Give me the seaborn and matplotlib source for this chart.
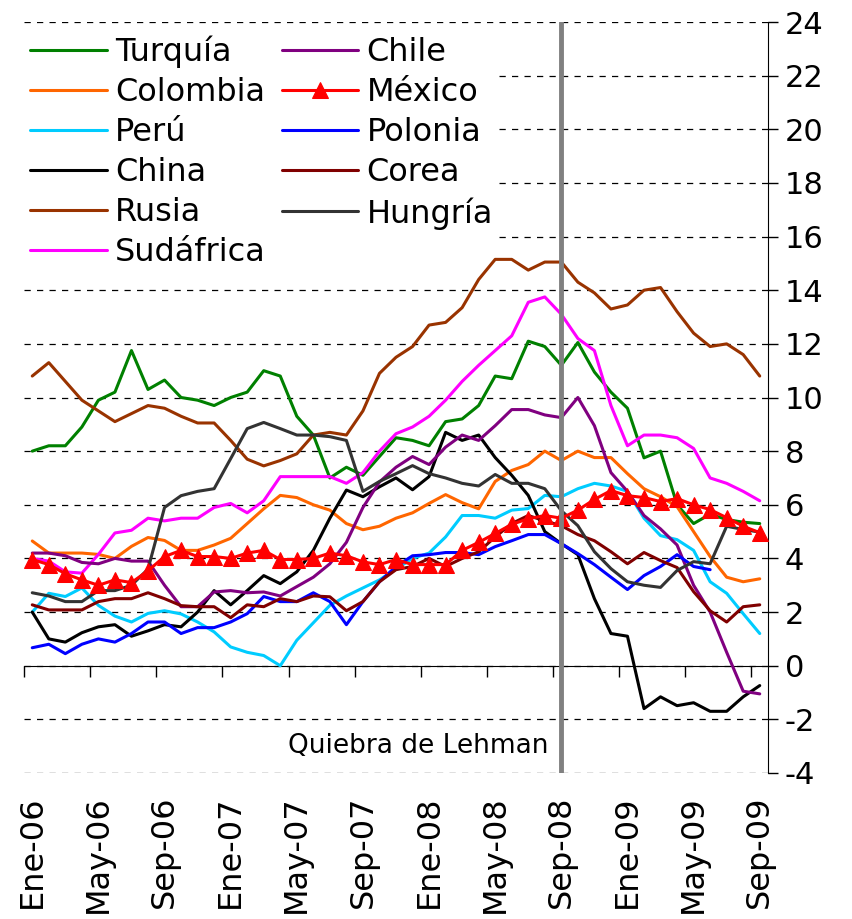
import numpy as np
import pandas as pd
import matplotlib
matplotlib.use("Agg")
import matplotlib.pyplot as plt
import seaborn as sns

# Meses (Ene-06 .. Sep-09)
meses_es = ["Ene", "Feb", "Mar", "Abr", "May", "Jun", "Jul", "Ago", "Sep", "Oct", "Nov", "Dic"]
fechas = [f"{meses_es[m]}-{y:02d}" for y in range(6, 10) for m in range(12)][:45]

turquia = [8.0, 8.2, 8.2, 8.9, 9.9, 10.2, 11.75, 10.3, 10.65, 10.0,
           9.9, 9.7, 10.0, 10.2, 11.0, 10.8, 9.3, 8.6, 7.0, 7.4,
           7.1, 7.8, 8.5, 8.4, 8.2, 9.1, 9.2, 9.7, 10.8, 10.7,
           12.1, 11.9, 11.2, 12.05, 10.95, 10.2, 9.6, 7.75, 8.0, 6.0,
           5.3, 5.65, 5.45, 5.35, 5.3]
colombia = [4.65, 4.2, 4.2, 4.2, 4.15, 4.0, 4.45, 4.78, 4.67, 4.3,
            4.3, 4.5, 4.75, 5.3, 5.85, 6.35, 6.27, 6.0, 5.8, 5.3,
            5.07, 5.2, 5.5, 5.7, 6.05, 6.38, 6.08, 5.85, 6.87, 7.28,
            7.5, 8.0, 7.65, 8.0, 7.76, 7.76, 7.16, 6.6, 6.3, 5.93,
            5.0, 4.07, 3.3, 3.13, 3.24]
peru = [2.0, 2.7, 2.58, 2.9, 2.25, 1.85, 1.63, 1.95, 2.05, 1.93,
        1.63, 1.26, 0.7, 0.5, 0.38, 0.0, 0.95, 1.6, 2.25, 2.6,
        2.9, 3.2, 3.6, 4.0, 4.2, 4.8, 5.6, 5.6, 5.5, 5.8,
        5.86, 6.35, 6.3, 6.6, 6.8, 6.7, 6.5, 5.5, 4.85, 4.7,
        4.3, 3.13, 2.7, 1.94, 1.2]
china = [2.0, 1.0, 0.88, 1.23, 1.45, 1.53, 1.1, 1.3, 1.53, 1.45,
         2.0, 2.8, 2.27, 2.8, 3.36, 3.06, 3.5, 4.3, 5.5, 6.55,
         6.3, 6.67, 7.0, 6.56, 7.05, 8.7, 8.4, 8.6, 7.76, 7.1,
         6.35, 5.0, 4.55, 4.14, 2.5, 1.2, 1.1, -1.6, -1.16, -1.49,
         -1.38, -1.7, -1.7, -1.16, -0.74]
rusia = [10.8, 11.3, 10.6, 9.9, 9.5, 9.1, 9.4, 9.7, 9.6, 9.3,
         9.05, 9.05, 8.4, 7.7, 7.45, 7.65, 7.9, 8.6, 8.7, 8.6,
         9.5, 10.9, 11.5, 11.9, 12.7, 12.8, 13.35, 14.4, 15.15, 15.15,
         14.75, 15.05, 15.05, 14.3, 13.9, 13.3, 13.45, 14.0, 14.1, 13.2,
         12.4, 11.9, 12.0, 11.6, 10.8]
sudafrica = [4.0, 3.9, 3.5, 3.45, 4.15, 4.95, 5.05, 5.5, 5.4, 5.5,
             5.5, 5.9, 6.05, 5.7, 6.15, 7.05, 7.05, 7.05, 7.05, 6.8,
             7.2, 8.0, 8.65, 8.9, 9.3, 9.9, 10.6, 11.2, 11.75, 12.3,
             13.55, 13.75, 13.1, 12.2, 11.75, 9.7, 8.2, 8.6, 8.6, 8.5,
             8.1, 7.0, 6.8, 6.5, 6.15]
chile = [4.2, 4.2, 4.1, 3.85, 3.8, 4.0, 3.9, 3.9, 3.0, 2.2,
         2.2, 2.75, 2.8, 2.72, 2.75, 2.6, 2.95, 3.3, 3.8, 4.6,
         5.9, 6.85, 7.4, 7.8, 7.5, 8.15, 8.6, 8.4, 8.95, 9.55,
         9.55, 9.35, 9.25, 10.0, 8.95, 7.2, 6.5, 5.6, 5.1, 4.5,
         3.0, 2.0, 0.5, -0.95, -1.05]
mexico = [3.96, 3.77, 3.43, 3.2, 3.0, 3.2, 3.1, 3.54, 4.07, 4.3,
          4.07, 4.07, 4.0, 4.2, 4.3, 3.96, 3.96, 4.0, 4.2, 4.1,
          3.87, 3.77, 3.96, 3.77, 3.77, 3.77, 4.3, 4.6, 4.93, 5.27,
          5.48, 5.6, 5.5, 5.8, 6.2, 6.53, 6.34, 6.27, 6.12, 6.23,
          6.0, 5.82, 5.52, 5.2, 4.96]
polonia = [0.67, 0.8, 0.45, 0.8, 1.0, 0.88, 1.2, 1.63, 1.63, 1.2,
           1.42, 1.42, 1.63, 1.94, 2.58, 2.39, 2.39, 2.72, 2.39, 1.53,
           2.39, 3.13, 3.7, 4.1, 4.14, 4.22, 4.22, 4.14, 4.44, 4.66,
           4.89, 4.89, 4.55, 4.18, 3.77, 3.3, 2.84, 3.36, 3.7, 4.14,
           3.7, 3.58, np.nan, np.nan, np.nan]
corea = [2.27, 2.08, 2.08, 2.08, 2.39, 2.5, 2.5, 2.72, 2.5, 2.24,
         2.2, 2.2, 1.79, 2.27, 2.2, 2.5, 2.39, 2.6, 2.57, 2.05,
         2.39, 3.13, 3.58, 3.7, 4.0, 3.7, 4.0, 4.25, 4.8, 5.3,
         5.6, 5.4, 5.22, 4.89, 4.66, 4.25, 3.8, 4.22, 3.92, 3.66,
         2.76, 2.05, 1.63, 2.2, 2.27]
hungria = [2.72, 2.6, 2.39, 2.39, 2.8, 2.8, 3.0, 3.6, 5.9, 6.34,
           6.5, 6.6, 7.72, 8.84, 9.07, 8.84, 8.6, 8.6, 8.54, 8.4,
           6.5, 6.87, 7.16, 7.46, 7.16, 7.0, 6.8, 6.7, 7.13, 6.8,
           6.8, 6.6, 5.78, 5.22, 4.25, 3.62, 3.13, 3.0, 2.92, 3.55,
           3.88, 3.8, 5.2, 5.08, 4.98]

# Orden de la leyenda (dos columnas)
series = [
    ("Turquía", turquia, "#008000"),
    ("Colombia", colombia, "#FF6600"),
    ("Perú", peru, "#00CCFF"),
    ("China", china, "#000000"),
    ("Rusia", rusia, "#993300"),
    ("Sudáfrica", sudafrica, "#FF00FF"),
    ("Chile", chile, "#800080"),
    ("México", mexico, "#FF0000"),
    ("Polonia", polonia, "#0000FF"),
    ("Corea", corea, "#800000"),
    ("Hungría", hungria, "#333333"),
]

sns.set_style("white")
plt.rcParams["font.family"] = ["DejaVu Sans"]
plt.rcParams["text.color"] = "black"
plt.rcParams["axes.unicode_minus"] = False

fig = plt.figure(figsize=(8.52, 9.19), dpi=100)
ax = fig.add_axes([24 / 852, 1 - 773 / 919, 744 / 852, 751 / 919])

idx = np.arange(len(fechas))
for nombre, valores, color in series:
    df = pd.DataFrame({"mes": idx, "valor": valores})
    if nombre == "México":
        sns.lineplot(data=df, x="mes", y="valor", color=color, linewidth=2.2,
                     marker="^", markersize=11, markeredgecolor=color,
                     label=nombre, ax=ax, zorder=4)
    else:
        sns.lineplot(data=df, x="mes", y="valor", color=color, linewidth=2.2,
                     label=nombre, ax=ax, zorder=3)

# Quiebra de Lehman (Sep-08)
lehman = fechas.index("Sep-08")
ax.axvline(lehman, color="#808080", linewidth=3.5, zorder=5)
ax.text(lehman - 0.8, -3.0, "Quiebra de Lehman", ha="right", va="center",
        fontsize=19, color="black")

ax.set_xlim(-0.5, len(fechas) - 0.5)
ax.set_ylim(-4, 24)
ax.set_xlabel("")
ax.set_ylabel("")

ax.set_yticks(np.arange(-4, 25, 2))
ax.yaxis.tick_right()
ax.tick_params(axis="y", direction="out", length=7, width=1, pad=5,
               labelsize=22, colors="black")
ax.grid(axis="y", color="black", linestyle=(0, (5, 5)), linewidth=0.9)
ax.grid(axis="x", visible=False)

for s in ["top", "left"]:
    ax.spines[s].set_visible(False)
ax.spines["right"].set_color("black")
ax.spines["bottom"].set_position(("data", 0))
ax.spines["bottom"].set_color("black")

ax.set_xticks(np.arange(-0.5, len(fechas) - 1, 4))
ax.tick_params(axis="x", direction="out", length=8, width=1,
               labelbottom=False, bottom=True, colors="black")

sec = ax.secondary_xaxis(0.0)
sec.set_xticks(idx[::4], labels=fechas[::4])
sec.tick_params(axis="x", length=0, pad=16, labelrotation=90, labelsize=23,
                colors="black")
sec.spines["bottom"].set_visible(False)

leg = ax.legend(loc="upper left", bbox_to_anchor=(0.0, 0.99), ncol=2,
                fontsize=23, frameon=True, facecolor="white",
                edgecolor="none", framealpha=1, handlelength=2.4,
                handletextpad=0.25, columnspacing=0.5, labelspacing=0.28,
                borderpad=0.2, borderaxespad=0.0)
for t in leg.get_texts():
    t.set_color("black")
# la leyenda tapa la rejilla pero no las series
leg.set_zorder(2.5)

fig.savefig("out.png", dpi=100)
